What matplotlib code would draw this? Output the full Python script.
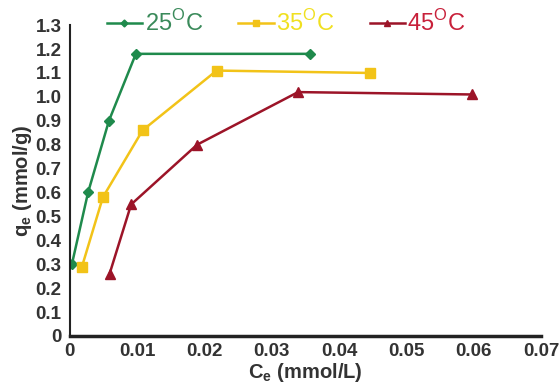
import matplotlib
matplotlib.use("Agg")
import matplotlib.pyplot as plt

plt.rcParams['font.family'] = ['Liberation Sans', 'DejaVu Sans']
plt.rcParams['mathtext.fontset'] = 'custom'
plt.rcParams['mathtext.rm'] = 'Liberation Sans'
plt.rcParams['mathtext.bf'] = 'Liberation Sans:bold'

ce_25 = [0.0003, 0.0027, 0.0058, 0.0098, 0.0357]
qe_25 = [0.30, 0.60, 0.90, 1.18, 1.18]
ce_35 = [0.0018, 0.0049, 0.0108, 0.0218, 0.0446]
qe_35 = [0.29, 0.58, 0.86, 1.11, 1.10]
ce_45 = [0.0059, 0.0091, 0.0189, 0.0339, 0.0597]
qe_45 = [0.26, 0.55, 0.80, 1.02, 1.01]

labels = ["25$^{\\mathrm{O}}$C", "35$^{\\mathrm{O}}$C", "45$^{\\mathrm{O}}$C"]
line_colors = ["#1f8a4c", "#f2c318", "#9c1428"]
text_colors = ["#3a8a5a", "#f0e020", "#c8203a"]

xticks = [0, 0.01, 0.02, 0.03, 0.04, 0.05, 0.06, 0.07]
xticklabels = ["0", "0.01", "0.02", "0.03", "0.04", "0.05", "0.06", "0.07"]
yticks = [0, 0.1, 0.2, 0.3, 0.4, 0.5, 0.6, 0.7, 0.8, 0.9, 1.0, 1.1, 1.2, 1.3]
yticklabels = ["0", "0.1", "0.2", "0.3", "0.4", "0.5", "0.6", "0.7", "0.8", "0.9", "1.0", "1.1", "1.2", "1.3"]

fig = plt.figure(figsize=(5.59, 3.87), dpi=100)
ax = fig.add_axes([0.125, 0.132, 0.843, 0.803])

ax.plot(ce_25, qe_25, color=line_colors[0], marker='D', markersize=5, lw=1.8, label=labels[0])
ax.plot(ce_35, qe_35, color=line_colors[1], marker='s', markersize=7, lw=1.8, label=labels[1])
ax.plot(ce_45, qe_45, color=line_colors[2], marker='^', markersize=7, lw=1.8, label=labels[2])

ax.set_xlim(0, 0.07)
ax.set_ylim(0, 1.3)
ax.set_xticks(xticks)
ax.set_xticklabels(xticklabels)
ax.set_yticks(yticks)
ax.set_yticklabels(yticklabels)
ax.tick_params(length=0, labelsize=13.5, labelcolor="#333333")
ax.tick_params(axis='x', pad=5)
ax.tick_params(axis='y', pad=6)
for lab in ax.get_xticklabels() + ax.get_yticklabels():
    lab.set_fontweight('bold')

ax.spines['top'].set_visible(False)
ax.spines['right'].set_visible(False)
ax.spines['left'].set_linewidth(1.5)
ax.spines['bottom'].set_linewidth(2.5)
ax.spines['left'].set_color('#222222')
ax.spines['bottom'].set_color('#222222')

ax.set_xlabel("C$_{\\mathbf{e}}$ (mmol/L)", fontsize=14.5, fontweight='bold', color='#333333', labelpad=1)
ax.set_ylabel("q$_{\\mathbf{e}}$ (mmol/g)", fontsize=14.5, fontweight='bold', color='#333333', labelpad=1)

leg = fig.legend(loc='center', bbox_to_anchor=(0.512, 0.94), ncol=3, frameon=False,
                 fontsize=17, handlelength=1.5, handletextpad=0.1, columnspacing=1.5,
                 markerscale=0.7)
for t, c in zip(leg.get_texts(), text_colors):
    t.set_color(c)

fig.savefig("out.png", dpi=100)
